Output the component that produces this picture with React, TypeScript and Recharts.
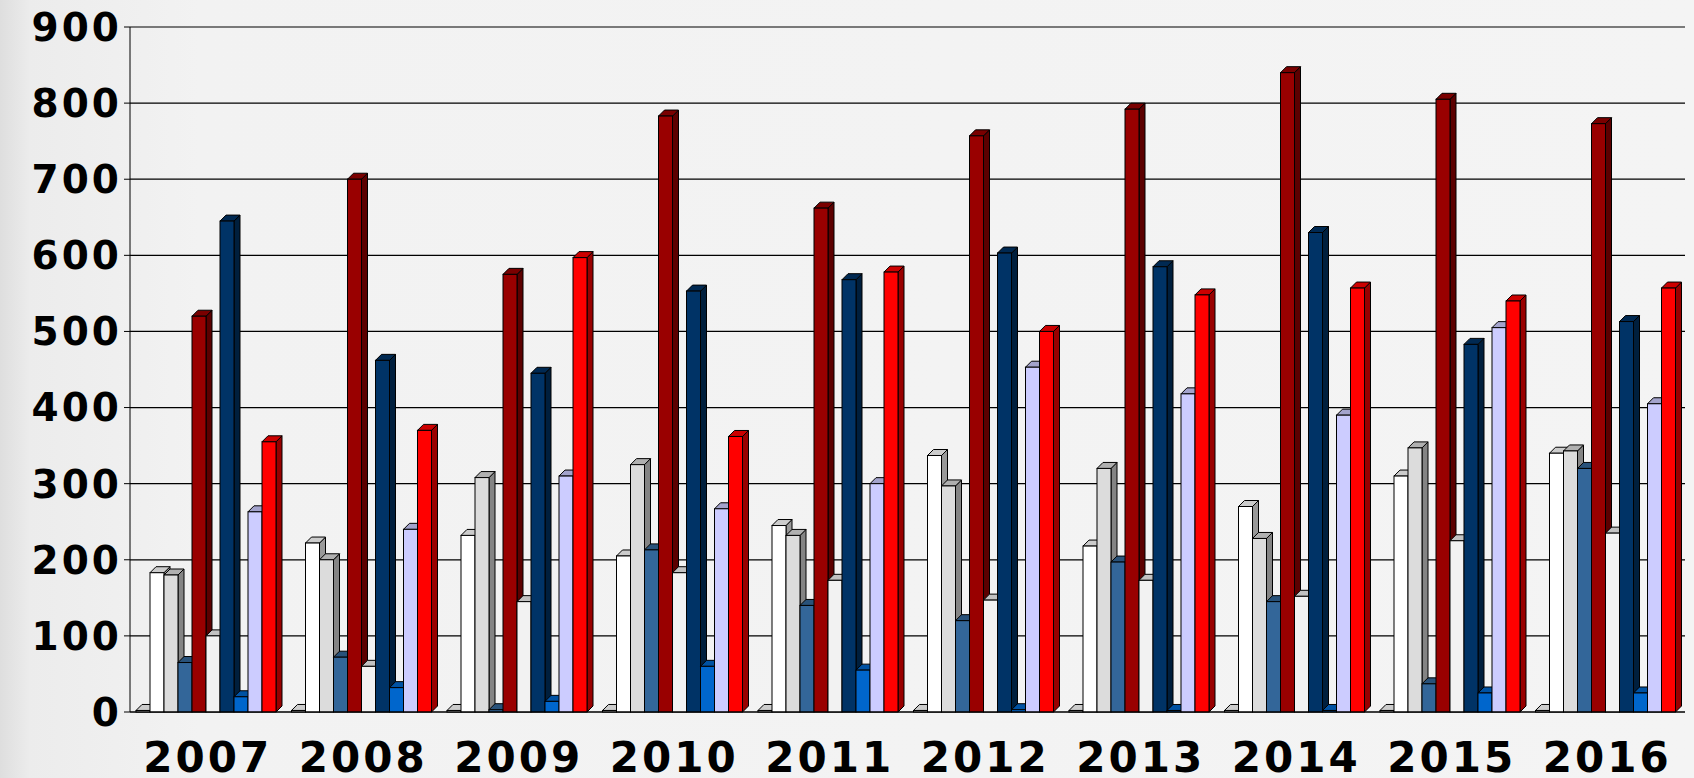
import React from 'react';
import { BarChart, Bar, XAxis, YAxis, CartesianGrid } from 'recharts';

const years = ['2007','2008','2009','2010','2011','2012','2013','2014','2015','2016'];
const s0 = [2,2,2,2,2,2,2,2,2,2];
const s1 = [183,222,232,205,245,337,218,270,310,340];
const s2 = [180,200,308,325,232,297,320,228,347,343];
const s3 = [65,72,3,213,140,120,197,145,37,320];
const s4 = [520,700,575,783,662,757,792,840,805,773];
const s5 = [100,60,145,183,173,147,173,152,225,235];
const s6 = [645,462,445,553,568,603,585,630,483,513];
const s7 = [20,32,14,60,55,3,2,2,25,25];
const s8 = [263,240,310,267,300,453,418,390,505,405];
const s9 = [355,370,597,362,578,500,548,557,540,557];
const series = [s0,s1,s2,s3,s4,s5,s6,s7,s8,s9];
const colors = ['#ffffff','#ffffff','#dcdcdc','#336699','#990000','#f2f2f2','#003366','#0066cc','#ccccff','#ff0000'];
const yTicks = [0,100,200,300,400,500,600,700,800,900];

const data = years.map((y, i) => {
  const o: any = { year: y };
  series.forEach((s, k) => { o['s' + k] = s[i]; });
  return o;
});

function shade(hex: string, f: number) {
  const n = parseInt(hex.slice(1), 16);
  const r = Math.round(((n >> 16) & 255) * f), g = Math.round(((n >> 8) & 255) * f), b = Math.round((n & 255) * f);
  return `rgb(${r},${g},${b})`;
}

const Bar3D = (props: any) => {
  const { x, y, width, height, fill } = props;
  if (height == null || isNaN(height)) return null;
  const d = 6;
  return (
    <g stroke="#000" strokeWidth={1}>
      <polygon points={`${x + width},${y} ${x + width + d},${y - d} ${x + width + d},${y + height - d} ${x + width},${y + height}`} fill={shade(fill, 0.6)} />
      <polygon points={`${x},${y} ${x + d},${y - d} ${x + width + d},${y - d} ${x + width},${y}`} fill={shade(fill, 0.8)} />
      <rect x={x} y={y} width={width} height={height} fill={fill} />
    </g>
  );
};

export default function App() {
  return (
    <div style={{ position: 'absolute', left: 0, top: 0, width: 1694, height: 778, background: 'linear-gradient(90deg,#dedede 0px,#ececec 30px,#f2f2f2 200px,#f4f4f4 100%)' }}>
      <BarChart width={1694} height={778} data={data} margin={{ top: 27, right: 9, left: 0, bottom: 0 }} barGap={0} barCategoryGap={6}>
        <CartesianGrid vertical={false} stroke="#000" strokeWidth={1.2} />
        <XAxis dataKey="year" axisLine={{ stroke: '#000' }} tickLine={false} interval={0}
          tick={{ fill: '#000', fontSize: 42, fontWeight: 'bold', fontFamily: 'DejaVu Sans', letterSpacing: 3, dy: 22 }} height={66} />
        <YAxis domain={[0, 900]} ticks={yTicks} axisLine={{ stroke: '#000' }} tickLine={{ stroke: '#000' }} width={130}
          tick={{ fill: '#000', fontSize: 39, fontWeight: 'bold', fontFamily: 'DejaVu Sans', letterSpacing: 3 }} />
        {series.map((_, k) => (
          <Bar key={k} dataKey={'s' + k} fill={colors[k]} shape={<Bar3D />} isAnimationActive={false} />
        ))}
      </BarChart>
    </div>
  );
}
